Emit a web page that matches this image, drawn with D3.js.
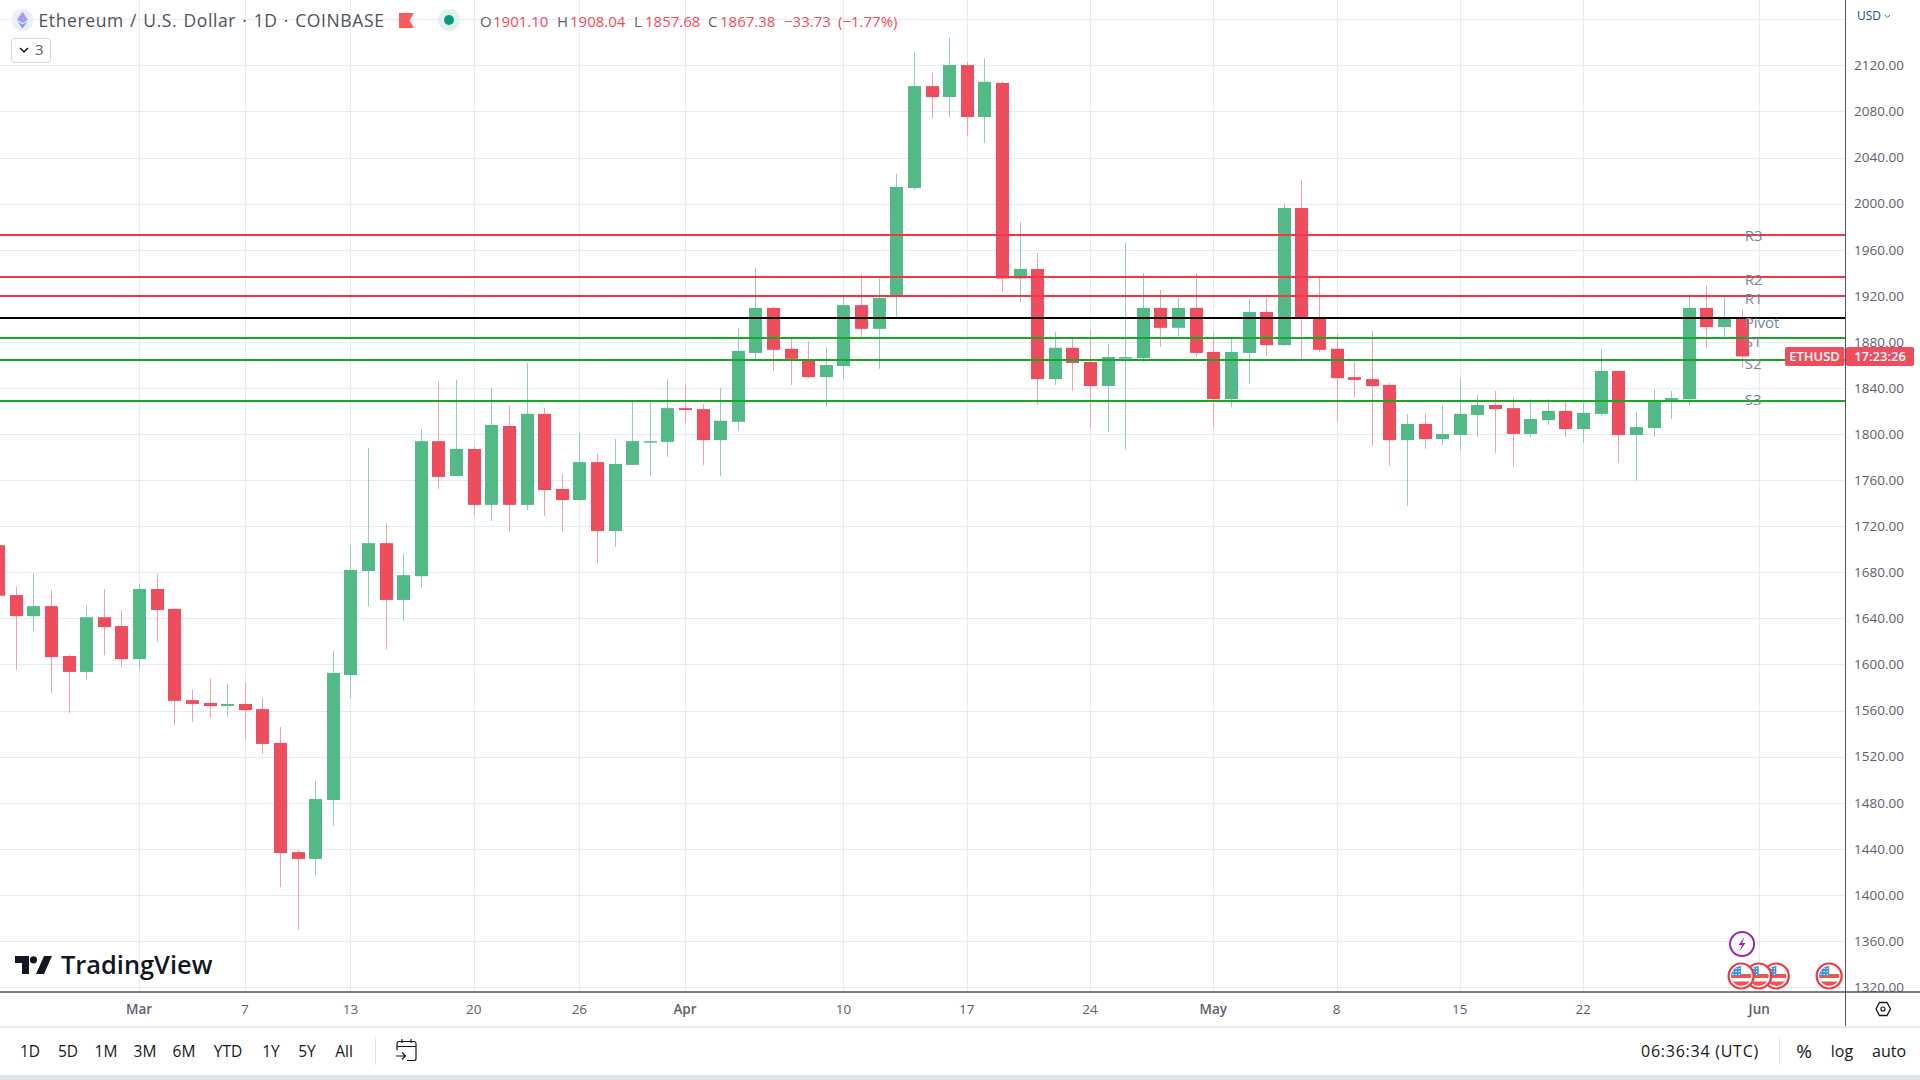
<!DOCTYPE html>
<html>
<head>
<meta charset="utf-8">
<title>ETHUSD</title>
<script src="https://cdn.jsdelivr.net/npm/d3@7"></script>
<style>
  html, body { margin: 0; padding: 0; background: #fff; overflow: hidden; }
  svg text { font-family: "Open Sans", sans-serif; }
</style>
</head>
<body>
<div id="chart"></div>
<script>
// daily candles, Feb 21 to May 31
var opens = [1703.5,1660.2,1641.9,1650.6,1607.3,1593.5,1641,1633.3,1604.6,1665.5,1648.2,1569,1566.6,1563.9,1565.7,1561.2,1531.9,1437.1,1431.2,1482.3,1590.8,1681.1,1705.3,1656,1676.6,
  1793.8,1763.6,1787,1738.5,1807,1738.5,1817.5,1752.3,1742.7,1775.6,1715.8,1773.2,1793.2,1793.2,1822.5,1821.6,1794.7,1810.6,1870.4,1909.5,1874,1863.8,1849.4,1859,1911.9,
  1891.3,1919.7,2013.6,2102,2092.5,2120.3,2075.2,2104.8,1935,1943.3,1847.7,1874.9,1862.6,1841.7,1865.9,1865.9,1909.5,1892.2,1909.5,1871.3,1830.3,1870.4,1905.9,1877.2,1996.2,
  1900.3,1874,1849.4,1847.7,1842.6,1794.7,1808.8,1795.6,1799.2,1816.6,1825.2,1822.5,1800.1,1812.1,1820.1,1804.3,1817.5,1854.8,1799.2,1805.2,1828.5,1830.3,1909.5,1892.8,1901.1];
var highs = [1712,1667.3,1679.3,1664.7,1608.7,1651.5,1665.5,1647,1669.7,1678.4,1649,1578,1588,1583,1584.2,1570.8,1545.7,1439,1498.7,1611.7,1703,1787.9,1722.7,1695.7,1804.3,
  1846.2,1847,1789,1839.9,1824.3,1861.7,1822.5,1765.4,1800.7,1782.8,1795.6,1827.9,1830,1847.6,1843,1825.8,1839.9,1892.2,1944.2,1910.7,1882.6,1880.5,1874.9,1919.7,1938.5,
  1935,2025.8,2131.7,2113.7,2143.9,2123,2126,2106.2,1984,1957,1888.6,1882.6,1890.4,1878.4,1965.7,1939.7,1925,1918.2,1939.7,1887.7,1882.6,1917.3,1918.2,2000.4,2020.4,
  1936.1,1886.8,1862.6,1889.5,1844.4,1817.5,1817.5,1825.2,1848.5,1833.9,1837.5,1832.1,1830.3,1830.3,1828.6,1827,1874,1855,1819.3,1839,1837.5,1921.5,1928.7,1918.2,1908.04];
var lows = [1650,1595.3,1629.1,1575.3,1557.9,1587.2,1608,1597.7,1595.3,1619.5,1547.5,1550.2,1553.4,1554.3,1535.2,1522.4,1406.7,1369.6,1417,1459.9,1570.8,1650.6,1613.2,1637.7,1666.4,
  1752.3,1763,1729,1724.5,1714.9,1734,1729,1714.9,1742,1688,1702,1773,1763.6,1780,1809.7,1773,1763.6,1802.8,1865.3,1854.8,1842.6,1848.5,1823.4,1847.7,1883.8,
  1856.6,1901.8,2011.8,2074.3,2075.2,2058.7,2052.7,1923.3,1914.6,1825.5,1842.6,1837.5,1805.2,1801.9,1786.4,1862.6,1875.5,1885.3,1866.8,1806,1823.4,1843.5,1867.7,1876.4,1865.3,
  1871.3,1810.6,1832.1,1789.7,1772.3,1737.6,1787,1790.6,1786,1797.4,1783.7,1771.4,1797.4,1807.9,1797.4,1792.4,1815.7,1775,1759.5,1797.4,1813,1824.3,1874.9,1883.8,1857.68];
var closes = [1659.6,1641.9,1650.6,1606.4,1593.5,1641,1632.4,1604.6,1665.5,1647.3,1568.4,1565.7,1563.9,1565.7,1560.3,1531,1436.3,1431.2,1483.2,1592.6,1682,1705.3,1656,1677.5,1793.8,
  1762.8,1787,1738.5,1807.9,1738.5,1817.5,1751.4,1742.7,1775.6,1715.8,1774,1793.8,1793.8,1822.5,1820.8,1794.7,1811.5,1872.2,1909.5,1873.1,1865.3,1849.4,1859.9,1911.9,1891.3,
  1918.2,2014.5,2102,2092.5,2120.3,2075.2,2105.7,1935,1943.3,1847.7,1874.9,1861.7,1841.7,1866.8,1866.8,1909.5,1892.2,1909.5,1870.4,1830.3,1871.3,1905.9,1877.2,1996.2,1901.2,
  1873.1,1848.5,1847,1841.7,1794.7,1808.8,1795.6,1800.1,1817.5,1825.2,1821.6,1800.1,1813,1820.1,1804.3,1818.4,1854.8,1799.2,1806,1828.5,1831.2,1909.5,1892.8,1900.3,1867.38];

var levelNames = ["R3", "R2", "R1", "Pivot", "S1", "S2", "S3"];
var levelValues = [1972.9, 1936.7, 1919.4, 1900.9, 1883.5, 1864.4, 1828.8];
var levelColors = ["#f23645", "#f23645", "#f23645", "#000000", "#1aa628", "#1aa628", "#1aa628"];
var levelNudge = [1, 3, 3, 5, 4, 4, -1];

var priceTicks = [2120, 2080, 2040, 2000, 1960, 1920, 1880, 1840, 1800, 1760, 1720, 1680, 1640, 1600, 1560, 1520, 1480, 1440, 1400, 1360, 1320];
var tickDates = ["2023-03-01", "2023-03-07", "2023-03-13", "2023-03-20", "2023-03-26", "2023-04-01", "2023-04-10", "2023-04-17", "2023-04-24", "2023-05-01", "2023-05-08", "2023-05-15", "2023-05-22", "2023-06-01"];
var tickLabels = ["Mar", "7", "13", "20", "26", "Apr", "10", "17", "24", "May", "8", "15", "22", "Jun"];
var ranges = ["1D", "5D", "1M", "3M", "6M", "YTD", "1Y", "5Y", "All"];
var rangeX = [30, 68, 106, 145, 184, 228, 271, 307, 344];
var flagDates = ["2023-06-05", "2023-06-02", "2023-06-01", "2023-05-31"];

var width = 1920, height = 1080,
    axisX = 1845.5, axisY = 992;

var parse = d3.utcParse("%Y-%m-%d");
var days = d3.utcDay.range(parse("2023-02-21"), parse("2023-06-01"));

var x = d3.scaleUtc().domain([parse("2023-03-01"), parse("2023-06-01")]).range([139.6, 1759.7]);
var y = d3.scaleLinear().domain([1320, 2120]).range([987, 65.4]);

var up = "#53b987", down = "#ed4d5d";

var svg = d3.select("#chart").append("svg")
    .attr("width", width)
    .attr("height", height);
svg.append("rect").attr("width", width).attr("height", height).attr("fill", "#fff");

// grid
svg.append("g").selectAll("line").data(tickDates).enter().append("line")
    .attr("x1", function(d) { return Math.floor(x(parse(d))) + 0.5; })
    .attr("x2", function(d) { return Math.floor(x(parse(d))) + 0.5; })
    .attr("y1", 0).attr("y2", axisY)
    .attr("stroke", "#e4ecf2");
svg.append("g").selectAll("line").data([2160].concat(priceTicks)).enter().append("line")
    .attr("x1", 0).attr("x2", axisX)
    .attr("y1", function(d) { return Math.round(y(d)) + 0.5; })
    .attr("y2", function(d) { return Math.round(y(d)) + 0.5; })
    .attr("stroke", "#e4ecf2");

// candles
var candles = svg.append("g").selectAll("g").data(days).enter().append("g");
candles.append("line")
    .attr("x1", function(d) { return Math.floor(x(d)) + 0.5; })
    .attr("x2", function(d) { return Math.floor(x(d)) + 0.5; })
    .attr("y1", function(d, i) { return y(highs[i]); })
    .attr("y2", function(d, i) { return y(lows[i]); })
    .attr("stroke", function(d, i) { return closes[i] >= opens[i] ? "#93cbc4" : "#f5a0a8"; });
candles.append("rect")
    .attr("x", function(d) { return Math.floor(x(d)) - 6; })
    .attr("width", 13)
    .attr("y", function(d, i) { return y(Math.max(opens[i], closes[i])); })
    .attr("height", function(d, i) { return Math.max(1.5, Math.abs(y(opens[i]) - y(closes[i]))); })
    .attr("fill", function(d, i) { return closes[i] >= opens[i] ? up : down; });

// pivot levels
svg.append("g").selectAll("line").data(levelValues).enter().append("line")
    .attr("x1", 0).attr("x2", axisX)
    .attr("y1", function(d) { return Math.round(y(d)); })
    .attr("y2", function(d) { return Math.round(y(d)); })
    .attr("stroke", function(d, i) { return levelColors[i]; })
    .attr("stroke-width", 2);
svg.append("g").selectAll("text").data(levelNames).enter().append("text")
    .attr("x", x(parse("2023-06-01")) - 15)
    .attr("y", function(d, i) { return y(levelValues[i]) + levelNudge[i] + 5; })
    .attr("font-size", 15)
    .attr("fill", "#74869a")
    .text(function(d) { return d; });

// price axis
var yAxis = svg.append("g")
    .attr("transform", "translate(" + axisX + ",0)")
    .call(d3.axisRight(y).tickValues(priceTicks).tickSize(0).tickPadding(8.5).tickFormat(d3.format(".2f")));
yAxis.select(".domain").remove();
yAxis.selectAll("text").attr("font-size", 13.5).attr("font-family", null).attr("fill", "#5d606b");
svg.append("text").attr("x", 1857).attr("y", 20).attr("font-size", 12).attr("fill", "#2a4a8a").text("USD");
svg.append("path").attr("d", "M1885 15l2.5 2.5l2.5 -2.5").attr("fill", "none").attr("stroke", "#666");

// time axis panel
svg.append("rect").attr("x", 0).attr("y", axisY).attr("width", width).attr("height", height - axisY).attr("fill", "#fff");
var xAxis = svg.append("g")
    .attr("transform", "translate(-1," + axisY + ")")
    .call(d3.axisBottom(x).tickValues(tickDates.map(parse)).tickSize(0).tickPadding(12)
        .tickFormat(function(d, i) { return tickLabels[i]; }));
xAxis.select(".domain").remove();
xAxis.selectAll("text")
    .attr("font-size", 13.5).attr("font-family", null).attr("fill", "#5d606b")
    .attr("font-weight", function(d, i) { return isNaN(+tickLabels[i]) ? 600 : 400; });

svg.append("line").attr("x1", 0).attr("x2", width).attr("y1", axisY).attr("y2", axisY).attr("stroke", "#50535e").attr("stroke-width", 1.5);
svg.append("line").attr("x1", axisX).attr("x2", axisX).attr("y1", 0).attr("y2", 1026).attr("stroke", "#50535e");
svg.append("line").attr("x1", 0).attr("x2", width).attr("y1", 1027).attr("y2", 1027).attr("stroke", "#e0e3eb").attr("stroke-width", 1.5);
svg.append("rect").attr("x", 0).attr("y", 1075).attr("width", width).attr("height", 5).attr("fill", "#e0e3eb");

// settings hexagon
svg.append("path").attr("d", "M1876 1009l3.5 -6.5h7.5l3.5 6.5l-3.5 6.5h-7.5z").attr("fill", "none").attr("stroke", "#131722").attr("stroke-width", 1.3);
svg.append("circle").attr("cx", 1883).attr("cy", 1009).attr("r", 2).attr("fill", "none").attr("stroke", "#131722").attr("stroke-width", 1.2);

// bottom toolbar
svg.append("g").selectAll("text").data(ranges).enter().append("text")
    .attr("x", function(d, i) { return rangeX[i]; })
    .attr("y", 1056.5)
    .attr("text-anchor", "middle")
    .attr("font-size", 15.5)
    .attr("fill", "#131722")
    .text(function(d) { return d; });
svg.append("line").attr("x1", 375.5).attr("x2", 375.5).attr("y1", 1037).attr("y2", 1065).attr("stroke", "#e0e3eb");
svg.append("path")
    .attr("d", "M397 1050v-6.5a2 2 0 0 1 2 -2h15a2 2 0 0 1 2 2v15a2 2 0 0 1 -2 2h-7M397 1046.5h19M402 1039v4M411 1039v4M396 1056h9M402 1052.5l3.5 3.5l-3.5 3.5")
    .attr("fill", "none").attr("stroke", "#131722").attr("stroke-width", 1.2);
svg.append("text").attr("x", 1641).attr("y", 1056.5).attr("font-size", 16).attr("letter-spacing", 0.75).attr("fill", "#131722").text("06:36:34 (UTC)");
svg.append("line").attr("x1", 1779.5).attr("x2", 1779.5).attr("y1", 1037).attr("y2", 1065).attr("stroke", "#e0e3eb");
svg.append("text").attr("x", 1804).attr("y", 1058).attr("text-anchor", "middle").attr("font-size", 19).attr("fill", "#131722").text("%");
svg.append("text").attr("x", 1842).attr("y", 1056.5).attr("text-anchor", "middle").attr("font-size", 16).attr("fill", "#131722").text("log");
svg.append("text").attr("x", 1889).attr("y", 1056.5).attr("text-anchor", "middle").attr("font-size", 16).attr("fill", "#131722").text("auto");

// watermark
var logo = svg.append("g").attr("fill", "#131722");
logo.append("path").attr("d", "M15 956h14v18h-7v-11h-7z");
logo.append("circle").attr("cx", 33.5).attr("cy", 959.8).attr("r", 3.6);
logo.append("path").attr("d", "M44 956h8l-8 18h-8z");
logo.append("text").attr("x", 61).attr("y", 974).attr("font-size", 25.4).attr("font-weight", 600).text("TradingView");

// legend row
var eth = svg.append("g");
eth.append("circle").attr("cx", 22.5).attr("cy", 20).attr("r", 11).attr("fill", "#eceef8");
eth.append("path").attr("d", "M22.5 11.5l5.5 8.5l-5.5 3l-5.5 -3z").attr("fill", "#a59bf0");
eth.append("path").attr("d", "M22.5 24.5l5 -3l-5 7l-5 -7z").attr("fill", "#7f9cf5");
svg.append("text").attr("x", 38.5).attr("y", 26.5).attr("font-size", 17.5).attr("letter-spacing", 0.62).attr("word-spacing", 1).attr("fill", "#4f525c")
    .text("Ethereum / U.S. Dollar · 1D · COINBASE");
svg.append("path").attr("d", "M399 13h15l-4.5 7.5l4.5 7.5h-15z").attr("fill", "#f95a5a");
svg.append("circle").attr("cx", 449).attr("cy", 20).attr("r", 11).attr("fill", "#e0f2ef");
svg.append("circle").attr("cx", 449).attr("cy", 20).attr("r", 5).attr("fill", "#089981");

var ohlcLabels = ["O", "1901.10", "H", "1908.04", "L", "1857.68", "C", "1867.38", "−33.73", "(−1.77%)"];
var ohlcX = [480, 493, 557, 570, 634, 645, 708, 720, 784, 838];
svg.append("g").selectAll("text").data(ohlcLabels).enter().append("text")
    .attr("x", function(d, i) { return ohlcX[i]; })
    .attr("y", 27)
    .attr("font-size", 15)
    .attr("fill", function(d, i) { return i < 8 && i % 2 == 0 ? "#5d606b" : down; })
    .text(function(d) { return d; });

svg.append("rect").attr("x", 11.5).attr("y", 38.5).attr("width", 39).attr("height", 24).attr("rx", 3)
    .attr("fill", "#fff").attr("stroke", "#d1d4dc");
svg.append("path").attr("d", "M20 48l4 4l4 -4").attr("fill", "none").attr("stroke", "#131722").attr("stroke-width", 1.5);
svg.append("text").attr("x", 35).attr("y", 55).attr("font-size", 15).attr("fill", "#5d606b").text("3");

// last price tag
var lastY = y(closes[closes.length - 1]);
svg.append("rect").attr("x", 1785).attr("y", lastY - 9.5).attr("width", 59.5).attr("height", 19).attr("rx", 2).attr("fill", down);
svg.append("rect").attr("x", 1846).attr("y", lastY - 9.5).attr("width", 68).attr("height", 19).attr("rx", 2).attr("fill", down);
svg.append("text").attr("x", 1814.5).attr("y", lastY + 5).attr("text-anchor", "middle").attr("font-size", 13).attr("font-weight", 600).attr("fill", "#fff").text("ETHUSD");
svg.append("text").attr("x", 1880).attr("y", lastY + 5).attr("text-anchor", "middle").attr("font-size", 13).attr("font-weight", 600).attr("fill", "#fff").text("17:23:26");

// events along the bottom
var defs = svg.append("defs");
defs.append("clipPath").attr("id", "flagClip").append("circle").attr("r", 10);
var flags = svg.append("g").selectAll("g").data(flagDates).enter().append("g")
    .attr("transform", function(d) { return "translate(" + (x(parse(d)) - 1) + ",976)"; });
flags.append("circle").attr("r", 12.5).attr("fill", "#fff").attr("stroke", "#f23645").attr("stroke-width", 2.2);
var inner = flags.append("g").attr("clip-path", "url(#flagClip)");
inner.append("rect").attr("x", -10).attr("y", -10).attr("width", 20).attr("height", 20).attr("fill", "#fff");
inner.append("rect").attr("x", -10).attr("y", -2).attr("width", 20).attr("height", 4).attr("fill", "#f4524d");
inner.append("rect").attr("x", -10).attr("y", 5.5).attr("width", 20).attr("height", 4.5).attr("fill", "#f4524d");
inner.append("rect").attr("x", -10).attr("y", -10).attr("width", 10).attr("height", 10).attr("fill", "#3d8fe0");
inner.selectAll("circle").data(d3.range(9)).enter().append("circle")
    .attr("cx", function(d) { return -8 + (d % 3) * 3; })
    .attr("cy", function(d) { return -7.5 + Math.floor(d / 3) * 3; })
    .attr("r", 0.7)
    .attr("fill", "#fff");

var bolt = svg.append("g").attr("transform", "translate(" + x(parse("2023-05-31")) + ",944)");
bolt.append("circle").attr("r", 12).attr("fill", "#fff").attr("stroke", "#9c27b0").attr("stroke-width", 2);
bolt.append("path").attr("d", "M2.5 -7l-6 8h3.5l-2.5 6l6 -8h-3.5z").attr("fill", "#9c27b0");
</script>
</body>
</html>
